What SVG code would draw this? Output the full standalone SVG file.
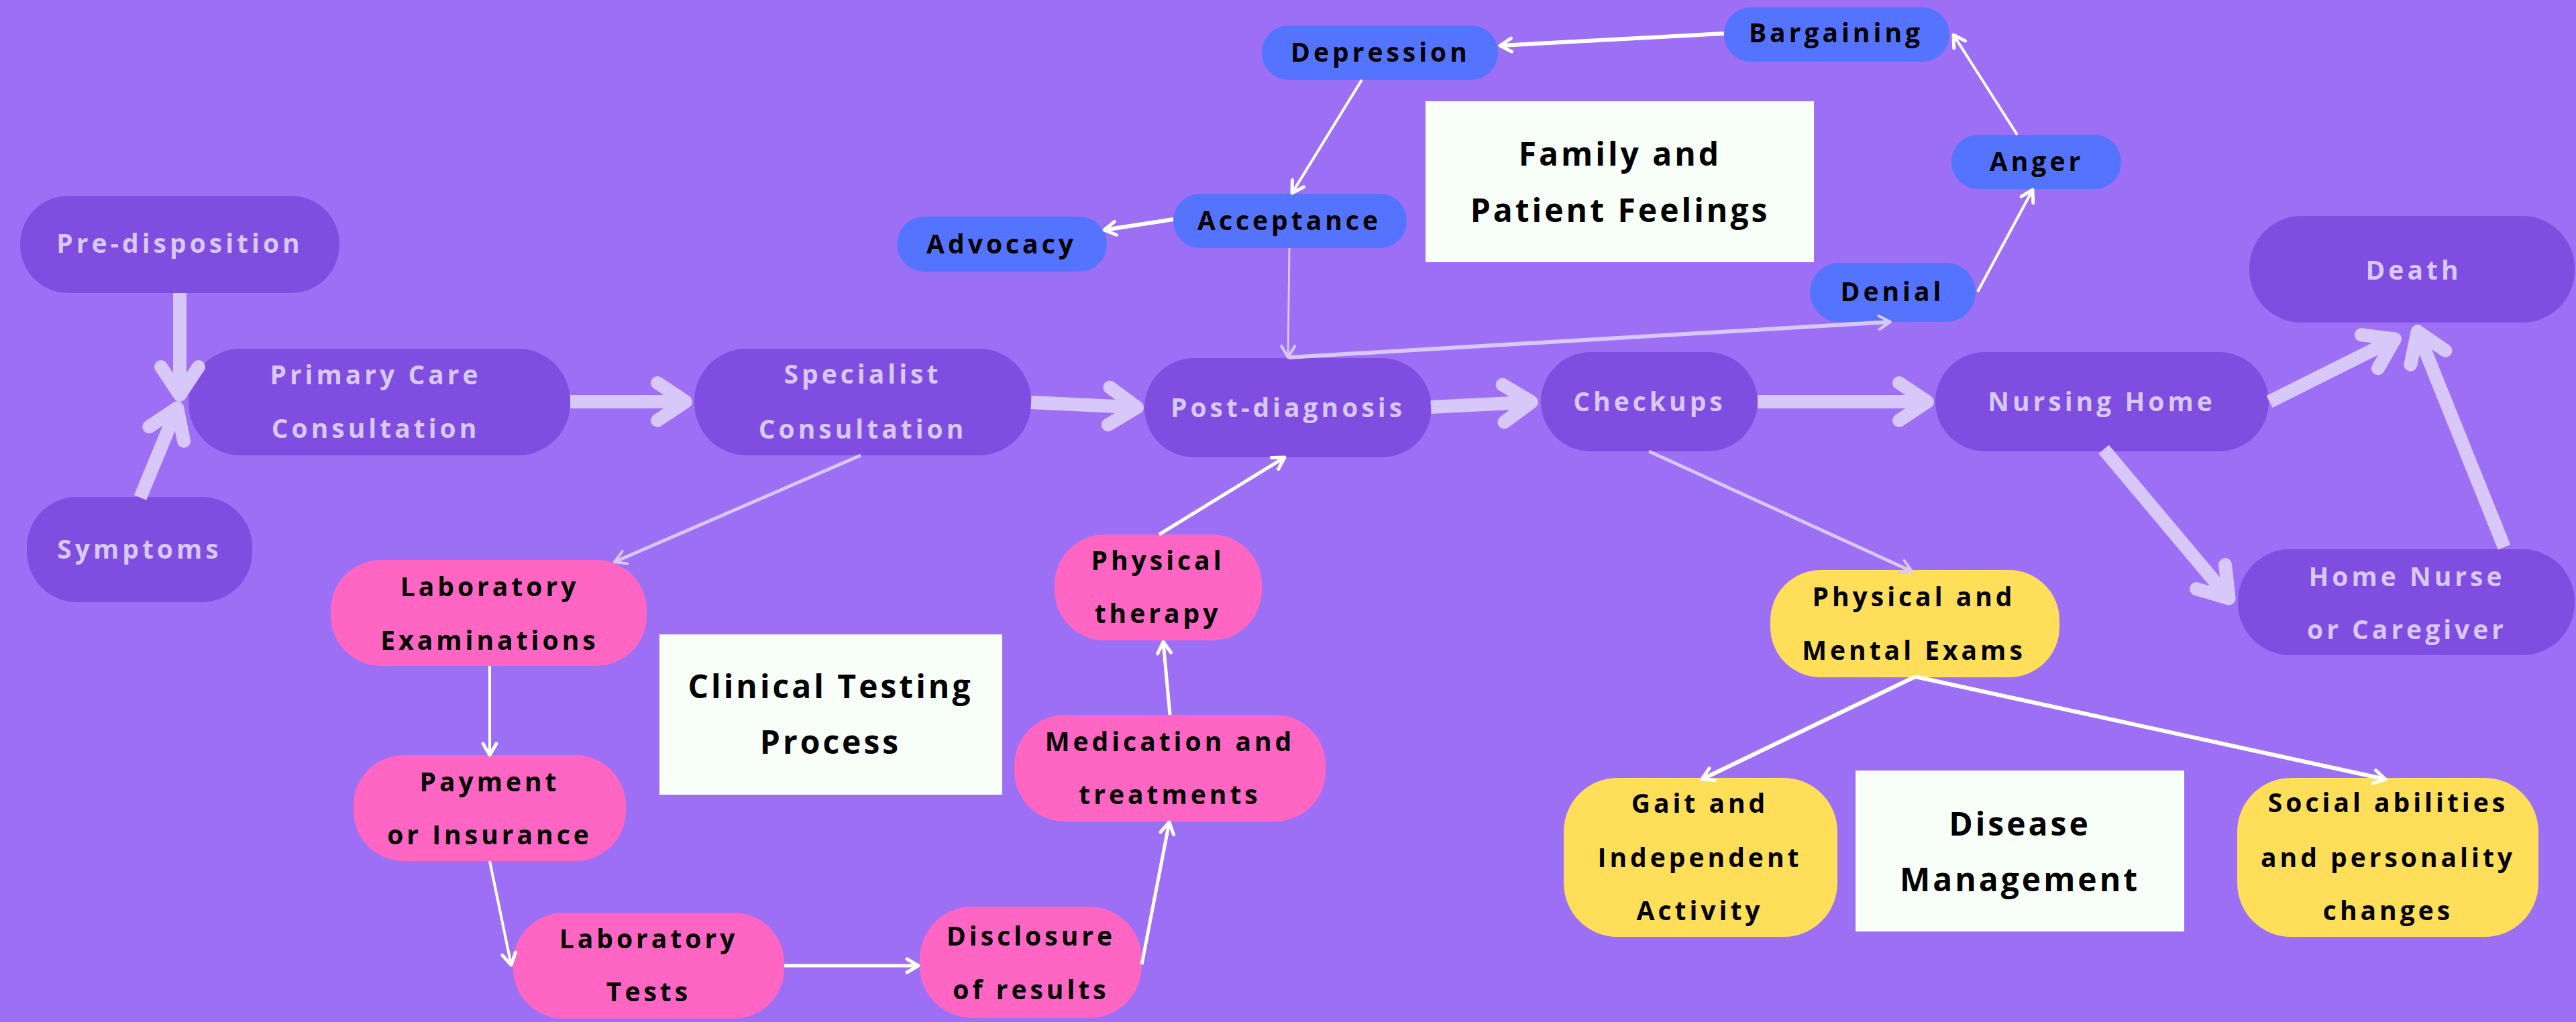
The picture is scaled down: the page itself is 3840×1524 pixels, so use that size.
<svg xmlns="http://www.w3.org/2000/svg" width="3840" height="1524" viewBox="0 0 3840 1524">
<style>
  .bg { fill: #9C6FF5; }
  .np { fill: #7F4DE0; }
  .nb { fill: #5474FF; }
  .nk { fill: #FF66C4; }
  .ny { fill: #FFDE59; }
  .nw { fill: #F8FFF8; }
  text { font-family: "Open Sans", "Liberation Sans", sans-serif; font-weight: 700; text-anchor: middle; }
  .tl { fill: #D9C8FA; font-size: 39px; letter-spacing: 5px; }
  .td { fill: #000000; font-size: 39px; letter-spacing: 5px; }
  .tt { fill: #000000; font-size: 48px; letter-spacing: 4px; }
  .thick { fill: none; stroke: #D8C7F9; stroke-width: 20; marker-end: url(#mThick); }
  .thinL { fill: none; stroke: #D8C7F9; marker-end: url(#mThinL); }
  .thinW { fill: none; stroke: #FFFFFF; marker-end: url(#mThinW); }
</style>
<defs>
  <marker id="mThick" markerUnits="userSpaceOnUse" viewBox="-70 -50 80 100" markerWidth="80" markerHeight="100" refX="0" refY="0" orient="auto" overflow="visible">
    <path d="M -42 -28 L 0 0 L -42 28" fill="none" stroke="#D8C7F9" stroke-width="20" stroke-linecap="round" stroke-linejoin="round"/>
  </marker>
  <marker id="mThinL" markerUnits="userSpaceOnUse" viewBox="-30 -20 40 40" markerWidth="40" markerHeight="40" refX="0" refY="0" orient="auto" overflow="visible">
    <path d="M -17 -10 L 0 0 L -17 10" fill="none" stroke="#D8C7F9" stroke-width="4" stroke-linecap="round" stroke-linejoin="round"/>
  </marker>
  <marker id="mThinW" markerUnits="userSpaceOnUse" viewBox="-30 -20 40 40" markerWidth="40" markerHeight="40" refX="0" refY="0" orient="auto" overflow="visible">
    <path d="M -17 -10 L 0 0 L -17 10" fill="none" stroke="#FFFFFF" stroke-width="5" stroke-linecap="round" stroke-linejoin="round"/>
  </marker>
</defs>
<rect class="bg" x="0" y="0" width="3840" height="1524"/>

<g id="nodes">
  <g id="n-predisposition"><rect class="np" x="30" y="292" width="476" height="145" rx="72"/><text class="tl" x="268" y="377">Pre-disposition</text></g>
  <g id="n-symptoms"><rect class="np" x="40" y="741" width="336" height="157" rx="75"/><text class="tl" x="208" y="833">Symptoms</text></g>
  <g id="n-primary"><rect class="np" x="281" y="520" width="569" height="159" rx="78"/><text class="tl" x="560" y="573">Primary Care</text><text class="tl" x="560" y="653">Consultation</text></g>
  <g id="n-specialist"><rect class="np" x="1035" y="520" width="502" height="159" rx="78"/><text class="tl" x="1286" y="572">Specialist</text><text class="tl" x="1286" y="654">Consultation</text></g>
  <g id="n-postdiag"><rect class="np" x="1706" y="534" width="428" height="148" rx="74"/><text class="tl" x="1920" y="622">Post-diagnosis</text></g>
  <g id="n-checkups"><rect class="np" x="2297" y="525" width="323" height="148" rx="74"/><text class="tl" x="2459" y="613">Checkups</text></g>
  <g id="n-nursing"><rect class="np" x="2885" y="525" width="497" height="148" rx="74"/><text class="tl" x="3133" y="613">Nursing Home</text></g>
  <g id="n-death"><rect class="np" x="3353" y="322" width="485" height="159" rx="78"/><text class="tl" x="3598" y="417">Death</text></g>
  <g id="n-homenurse"><rect class="np" x="3336" y="819" width="502" height="158" rx="78"/><text class="tl" x="3588" y="874">Home Nurse</text><text class="tl" x="3588" y="953">or Caregiver</text></g>

  <g id="n-depression"><rect class="nb" x="1881" y="38" width="352" height="81" rx="40"/><text class="td" x="2058" y="92">Depression</text></g>
  <g id="n-bargaining"><rect class="nb" x="2570" y="11" width="336" height="81" rx="40"/><text class="td" x="2737" y="63">Bargaining</text></g>
  <g id="n-anger"><rect class="nb" x="2909" y="201" width="253" height="81" rx="40"/><text class="td" x="3036" y="255">Anger</text></g>
  <g id="n-denial"><rect class="nb" x="2698" y="392" width="247" height="88" rx="44"/><text class="td" x="2821" y="449">Denial</text></g>
  <g id="n-acceptance"><rect class="nb" x="1749" y="289" width="348" height="81" rx="40"/><text class="td" x="1922" y="343">Acceptance</text></g>
  <g id="n-advocacy"><rect class="nb" x="1337" y="323" width="313" height="82" rx="41"/><text class="td" x="1493" y="378">Advocacy</text></g>

  <g id="n-family"><rect class="nw" x="2125" y="151" width="579" height="240"/><text class="tt" x="2415" y="247">Family and</text><text class="tt" x="2415" y="331">Patient Feelings</text></g>
  <g id="n-clinical"><rect class="nw" x="983" y="946" width="511" height="239"/><text class="tt" x="1238" y="1041">Clinical Testing</text><text class="tt" x="1238" y="1124">Process</text></g>
  <g id="n-disease"><rect class="nw" x="2766" y="1149" width="490" height="240"/><text class="tt" x="3011" y="1246">Disease</text><text class="tt" x="3011" y="1329">Management</text></g>

  <g id="n-labexams"><rect class="nk" x="493" y="835" width="471" height="158" rx="75"/><text class="td" x="730" y="889">Laboratory</text><text class="td" x="730" y="969">Examinations</text></g>
  <g id="n-payment"><rect class="nk" x="527" y="1126" width="406" height="158" rx="75"/><text class="td" x="730" y="1180">Payment</text><text class="td" x="730" y="1259">or Insurance</text></g>
  <g id="n-labtests"><rect class="nk" x="765" y="1361" width="404" height="158" rx="75"/><text class="td" x="967" y="1414">Laboratory</text><text class="td" x="967" y="1493">Tests</text></g>
  <g id="n-disclosure"><rect class="nk" x="1371" y="1352" width="331" height="166" rx="78"/><text class="td" x="1537" y="1410">Disclosure</text><text class="td" x="1537" y="1490">of results</text></g>
  <g id="n-medication"><rect class="nk" x="1512" y="1066" width="464" height="159" rx="75"/><text class="td" x="1744" y="1120">Medication and</text><text class="td" x="1744" y="1199">treatments</text></g>
  <g id="n-therapy"><rect class="nk" x="1572" y="797" width="309" height="158" rx="75"/><text class="td" x="1726" y="850">Physical</text><text class="td" x="1726" y="929">therapy</text></g>

  <g id="n-physexams"><rect class="ny" x="2639" y="850" width="431" height="160" rx="75"/><text class="td" x="2853" y="904">Physical and</text><text class="td" x="2853" y="984">Mental Exams</text></g>
  <g id="n-gait"><rect class="ny" x="2331" y="1160" width="408" height="237" rx="80"/><text class="td" x="2534" y="1212">Gait and</text><text class="td" x="2534" y="1293">Independent</text><text class="td" x="2534" y="1372">Activity</text></g>
  <g id="n-social"><rect class="ny" x="3335" y="1160" width="449" height="237" rx="80"/><text class="td" x="3560" y="1211">Social abilities</text><text class="td" x="3560" y="1293">and personality</text><text class="td" x="3560" y="1372">changes</text></g>
</g>

<g id="connectors">
  <path class="thick" d="M 268 437 L 268 589"/>
  <path class="thick" d="M 209 742 L 264.2 608.2"/>
  <path class="thick" d="M 850 599 L 1022 599"/>
  <path class="thick" d="M 1537 600 L 1695 607.5"/>
  <path class="thick" d="M 2133 607 L 2283 599.5"/>
  <path class="thick" d="M 2620 599 L 2873 599"/>
  <path class="thick" d="M 3383 599 L 3570 505.5"/>
  <path class="thick" d="M 3733 816 L 3603.7 494.3"/>
  <path class="thick" d="M 3136 670 L 3322.6 892.3"/>

  <path class="thinL" stroke-width="5" d="M 1283 679 L 916 838"/>
  <path class="thinL" stroke-width="5" d="M 2458 673 L 2850 852"/>
  <path class="thinL" stroke-width="3" d="M 1922 370 L 1920 533"/>
  <path class="thinL" stroke-width="6" d="M 1921 533 L 2818 480"/>

  <path class="thinW" stroke-width="6" d="M 1749 327 L 1646 343"/>
  <path class="thinW" stroke-width="6" d="M 2570 50 L 2236 68"/>
  <path class="thinW" stroke-width="4" d="M 2030 119 L 1926 288"/>
  <path class="thinW" stroke-width="4" d="M 3007 201 L 2912 52"/>
  <path class="thinW" stroke-width="4" d="M 2948 435 L 3030 283"/>
  <path class="thinW" stroke-width="4" d="M 730 993 L 730 1126"/>
  <path class="thinW" stroke-width="4" d="M 730 1284 L 762 1439"/>
  <path class="thinW" stroke-width="5" d="M 1169 1440 L 1369 1440"/>
  <path class="thinW" stroke-width="5" d="M 1702 1438 L 1743 1226"/>
  <path class="thinW" stroke-width="5" d="M 1744 1066 L 1734 957"/>
  <path class="thinW" stroke-width="5" d="M 1728 797 L 1915 682"/>
  <path class="thinW" stroke-width="6" d="M 2855 1009 L 2537 1162"/>
  <path class="thinW" stroke-width="6" d="M 2855 1009 L 3556 1162"/>
</g>
</svg>
